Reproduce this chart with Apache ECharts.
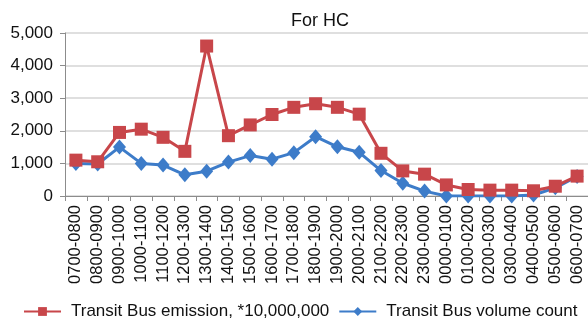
<!DOCTYPE html>
<html>
<head>
<meta charset="utf-8">
<script src="https://cdn.jsdelivr.net/npm/echarts@6/dist/echarts.min.js"></script>
<style>
  html, body { margin: 0; padding: 0; background: #fff; }
  #chart { width: 588px; height: 320px; }
</style>
</head>
<body>
<div id="chart"></div>
<script>
// Hourly time bands
const hours = ['0700-0800','0800-0900','0900-1000','1000-1100','1100-1200','1200-1300',
  '1300-1400','1400-1500','1500-1600','1600-1700','1700-1800','1800-1900','1900-2000',
  '2000-2100','2100-2200','2200-2300','2300-0000','0000-0100','0100-0200','0200-0300',
  '0300-0400','0400-0500','0500-0600','0600-0700'];

// HC emission (scaled by 1e7) and bus volume per hour
const emission = [1100, 1050, 1950, 2050, 1800, 1370, 4600, 1850, 2180, 2500, 2720, 2830,
  2720, 2510, 1310, 770, 670, 340, 200, 180, 180, 160, 300, 610];
const volume = [1000, 980, 1500, 1000, 950, 650, 760, 1040, 1240, 1130, 1330, 1820,
  1510, 1340, 780, 390, 150, 0, 0, 0, 0, 30, 250, 600];

const yTicks = { min: 0, max: 5000, interval: 1000 };

const FONT = '"Liberation Sans", Arial, sans-serif';
const RED = '#C8464A';
const BLUE = '#3D7CC9';

const chart = echarts.init(document.getElementById('chart'), null, { renderer: 'canvas' });

chart.setOption({
  animation: false,
  backgroundColor: '#fff',
  title: {
    text: 'For HC',
    left: 286,
    top: 7,
    textStyle: { fontFamily: FONT, fontSize: 18, fontWeight: 'normal', color: '#111' }
  },
  grid: { left: 65, right: -2, top: 33, bottom: 124, containLabel: false },
  legend: {
    left: 18,
    top: 298,
    itemWidth: 37,
    itemHeight: 11,
    itemGap: 9,
    textStyle: { fontFamily: FONT, fontSize: 17, color: '#111', padding: [0, 0, 0, 5] },
    data: ['Transit Bus emission, *10,000,000', 'Transit Bus volume count']
  },
  xAxis: {
    type: 'category',
    data: hours,
    boundaryGap: true,
    axisLine: { lineStyle: { color: '#8c8c8c', width: 1 } },
    axisTick: { show: true, length: 5, inside: false, lineStyle: { color: '#8c8c8c' } },
    axisLabel: {
      interval: 0,
      rotate: 90,
      margin: 9,
      fontFamily: FONT,
      fontSize: 16.5,
      color: '#111'
    }
  },
  yAxis: {
    type: 'value',
    min: yTicks.min,
    max: yTicks.max,
    interval: yTicks.interval,
    axisLine: { show: true, lineStyle: { color: '#8c8c8c', width: 1 } },
    axisTick: { show: true, length: 5, lineStyle: { color: '#8c8c8c' } },
    splitLine: { lineStyle: { color: '#d4d4d4', width: 1.5 } },
    axisLabel: {
      margin: 12,
      fontFamily: FONT,
      fontSize: 17,
      color: '#111',
      formatter: v => v.toLocaleString('en-US')
    }
  },
  series: [
    {
      name: 'Transit Bus emission, *10,000,000',
      type: 'line',
      data: emission,
      symbol: 'rect',
      symbolSize: 13,
      lineStyle: { color: RED, width: 3 },
      itemStyle: { color: RED },
      z: 3
    },
    {
      name: 'Transit Bus volume count',
      type: 'line',
      data: volume,
      symbol: 'diamond',
      symbolSize: [13, 15],
      lineStyle: { color: BLUE, width: 3 },
      itemStyle: { color: BLUE },
      z: 2
    }
  ]
});
</script>
</body>
</html>
